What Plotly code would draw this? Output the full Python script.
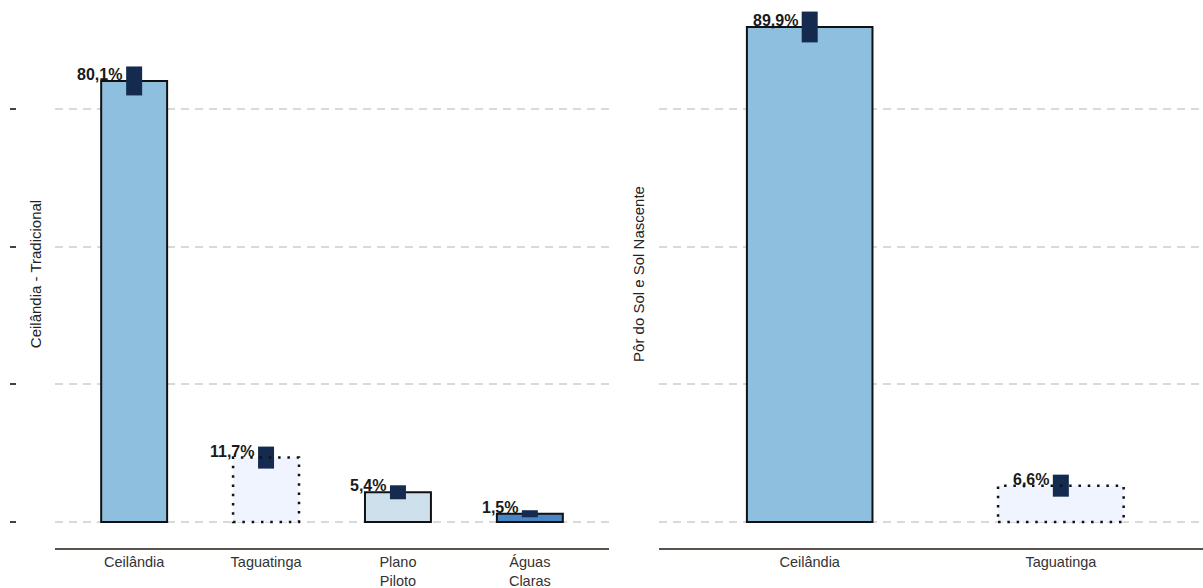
import plotly.graph_objects as go

# ---- data ----
left_cats = ["Ceilândia", "Taguatinga", "Plano<br>Piloto", "Águas<br>Claras"]
left_vals = [80.1, 11.7, 5.4, 1.5]
left_err = [2.63, 2.0, 1.27, 0.64]
left_colors = ["#8fbfdf", "#f0f4fe", "#cde0ec", "#4a86c4"]
left_dotted = [False, True, False, False]

right_cats = ["Ceilândia", "Taguatinga"]
right_vals = [89.9, 6.6]
right_err = [2.8, 2.0]
right_colors = ["#8fbfdf", "#f0f4fe"]
right_dotted = [False, True]

left_title = "Ceilândia - Tradicional"
right_title = "Pôr do Sol e Sol Nascente"
grid_vals = [0, 25, 50, 75]

NAVY = "#152a4f"
FONT = "Liberation Sans, Arial, sans-serif"
W, H = 1203, 588
YR = [-4.72, 94.8]


def fmt(v):
    return f"{v:.1f}".replace(".", ",") + "%"


fig = go.Figure()

panels = [
    (left_cats, left_vals, left_err, left_colors, left_dotted, "x", "y", 16 / 132),
    (right_cats, right_vals, right_err, right_colors, right_dotted, "x2", "y2", 16 / 251),
]

for cats, vals, errs, cols, dotted, xa, ya, ew in panels:
    fig.add_trace(go.Bar(
        x=cats, y=vals, width=0.5, xaxis=xa, yaxis=ya,
        marker=dict(color=cols,
                    line=dict(color="#111111", width=[0 if d else 2 for d in dotted])),
        showlegend=False, hoverinfo="skip",
    ))
    for i, (c, v, d) in enumerate(zip(cats, vals, dotted)):
        if d:
            fig.add_shape(type="rect", xref=xa, yref=ya,
                          x0=i - 0.25, x1=i + 0.25, y0=0, y1=v,
                          line=dict(color="#111111", width=2.5, dash="2.5px,6.8px"),
                          layer="above")
    lows = [v - e for v, e in zip(vals, errs)]
    fig.add_trace(go.Bar(
        x=cats, y=[2 * e for e in errs], base=lows, width=ew, xaxis=xa, yaxis=ya,
        marker=dict(color=NAVY, line=dict(width=0)),
        showlegend=False, hoverinfo="skip",
    ))
    for c, v in zip(cats, vals):
        fig.add_annotation(x=c, y=v, xref=xa, yref=ya, text=f"<b>{fmt(v)}</b>",
                           showarrow=False, xanchor="right", yanchor="bottom",
                           xshift=-10, yshift=-4,
                           font=dict(family=FONT, size=16, color="#1a1a1a"))

axis_common = dict(type="category", showline=True, linecolor="#5a524a", linewidth=2,
                   ticks="", showgrid=False, zeroline=False, automargin=False,
                   tickfont=dict(family=FONT, size=14.5, color="#333333"),
                   ticklabelstandoff=0)
yaxis_common = dict(range=YR, tickvals=grid_vals, showticklabels=False, ticks="",
                    showgrid=True, gridcolor="#d9d9d9", gridwidth=1.5, griddash="8px,6px",
                    zeroline=False, showline=False, automargin=False)

fig.update_layout(
    width=W, height=H,
    margin=dict(l=0, r=0, t=0, b=40),
    paper_bgcolor="white", plot_bgcolor="white",
    barmode="overlay",
    xaxis=dict(domain=[55 / W, 609 / W], anchor="y", range=[-0.6, 3.6], **axis_common),
    xaxis2=dict(domain=[659 / W, 1.0], anchor="y2", range=[-0.6, 1.566], **axis_common),
    yaxis=dict(domain=[0, 1], anchor="x",
               title=dict(text=left_title, standoff=8,
                          font=dict(family=FONT, size=15, color="#222222")),
               **yaxis_common),
    yaxis2=dict(domain=[0, 1], anchor="x2",
                title=dict(text=right_title, standoff=9,
                           font=dict(family=FONT, size=15, color="#222222")),
                **yaxis_common),
    yaxis3=dict(overlaying="y", anchor="free", position=16 / W, side="left",
                range=YR, tickvals=grid_vals, showticklabels=False,
                ticks="outside", ticklen=6, tickwidth=2, tickcolor="#4a4038",
                showgrid=False, zeroline=False, showline=False, automargin=False),
)

# invisible trace to activate yaxis3 (tick marks at far left)
fig.add_trace(go.Scatter(x=[left_cats[0]], y=[0], xaxis="x", yaxis="y3",
                         mode="markers", marker=dict(opacity=0), showlegend=False,
                         hoverinfo="skip"))

fig.write_html(
    "out.html",
    config={"displayModeBar": False},
    post_script="document.body.style.margin='0';document.body.style.overflow='hidden';",
)
